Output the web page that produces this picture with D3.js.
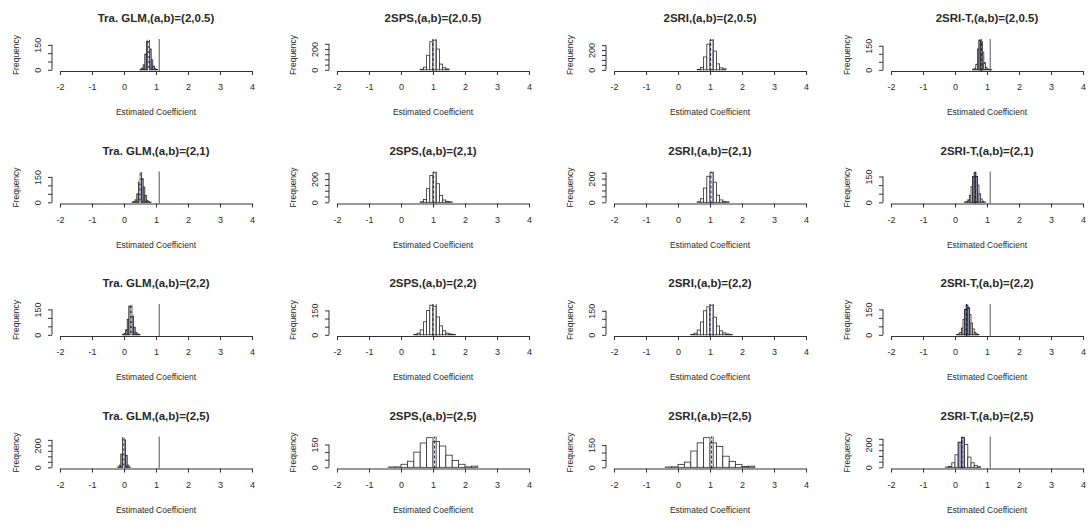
<!DOCTYPE html>
<html>
<head>
<meta charset="utf-8">
<script src="https://cdn.jsdelivr.net/npm/d3@7"></script>
<style>
  body { margin: 0; background: #fff; }
  svg text { font-family: "Liberation Sans", Arial, sans-serif; fill: #2a2a2a; }
</style>
</head>
<body>
<svg id="chart" width="1089" height="530"></svg>
<script>
// ---- data ----
let methods = ["Tra. GLM", "2SPS", "2SRI", "2SRI-T"];
let settings = ["(2,0.5)", "(2,1)", "(2,2)", "(2,5)"];
let xTicks = [-2, -1, 0, 1, 2, 3, 4];
let trueValue = 1.1;

// [row][col] histogram bin start, bin width, counts
let binStart = [
  [0.50, 0.6, 0.6, 0.55],
  [0.25, 0.6, 0.6, 0.30],
  [-0.05, 0.4, 0.4, 0.05],
  [-0.20, -0.4, -0.4, -0.3]
];
let binWidth = [
  [0.05, 0.1, 0.1, 0.05],
  [0.05, 0.1, 0.1, 0.05],
  [0.05, 0.1, 0.1, 0.05],
  [0.05, 0.2, 0.2, 0.1]
];
let counts = [
  [[3,10,30,95,170,178,125,60,22,6,2],
   [5,25,140,270,285,200,55,20,8],
   [5,25,130,260,300,190,60,20,10],
   [3,10,35,130,185,175,110,45,15,5,2,1]],
  [[2,5,15,50,120,175,140,90,40,12,4,1],
   [5,25,120,230,255,160,60,20,8,4],
   [5,30,120,220,250,170,60,20,8,4],
   [2,5,15,40,90,150,172,150,100,50,20,6,2]],
  [[2,8,30,90,170,175,110,45,15,5,2],
   [3,10,30,80,150,182,175,110,55,25,10,5,2],
   [3,10,30,80,150,175,185,110,55,25,12,5,2],
   [2,5,15,40,90,150,175,160,120,70,35,15,6,2]],
  [[3,20,120,270,250,110,20,3],
   [2,3,20,40,100,160,195,170,140,80,45,20,3,8],
   [2,3,20,35,110,165,200,165,140,75,40,20,5,8],
   [2,8,40,110,220,260,200,90,40,15,5]]
];
// filled (shaded) part of 2SRI-T histograms, same bins as counts
let shadedSRIT = [
  [0,0,0,0,185,175,0,0,0,0,0,0],
  [0,0,0,0,0,150,172,150,0,0,0,0,0],
  [0,0,0,0,0,150,175,160,0,0,0,0,0,0],
  [0,0,0,0,220,260,0,0,0,0,0]
];
let means = [
  [0.77, 1.0, 1.02, 0.82],
  [0.50, 1.02, 1.03, 0.63],
  [0.22, 1.0, 1.0, 0.36],
  [-0.01, 1.05, 1.05, 0.22]
];
let yTicks = [
  [[0,50,100,150],[0,50,100,150,200,250],[0,50,100,150,200,250],[0,50,100,150]],
  [[0,50,100,150],[0,50,100,150,200,250],[0,50,100,150,200,250],[0,50,100,150]],
  [[0,50,100,150],[0,50,100,150],[0,50,100,150],[0,50,100,150]],
  [[0,50,100,150,200,250],[0,50,100,150],[0,50,100,150],[0,50,100,150,200,250]]
];
let yLabelled = [
  [[0,150],[0,200],[0,200],[0,150]],
  [[0,150],[0,200],[0,200],[0,150]],
  [[0,150],[0,150],[0,150],[0,150]],
  [[0,200],[0,150],[0,150],[0,200]]
];

// ---- drawing ----
let svg = d3.select("#chart");
let plotW = 192, plotH = 32;
let shade = "#a3a3c4";

settings.forEach((setting, r) => {
  methods.forEach((method, c) => {
    let x0 = 60 + c * 277;
    let axisY = 71 + r * 132.5;
    let cts = counts[r][c];
    let M = d3.max(cts);

    let x = d3.scaleLinear().domain([-2, 4]).range([x0, x0 + plotW]);
    let y = d3.scaleLinear().domain([-0.04 * M, 1.04 * M]).range([axisY, axisY - plotH]);

    let g = svg.append("g");

    let bins = cts.map((v, i) => {
      let a = binStart[r][c] + i * binWidth[r][c];
      return {x0: a, x1: a + binWidth[r][c], n: v};
    });

    // bars
    g.selectAll("rect.bar").data(bins).enter().append("rect")
      .attr("class", "bar")
      .attr("x", d => x(d.x0))
      .attr("width", d => x(d.x1) - x(d.x0))
      .attr("y", d => y(d.n))
      .attr("height", d => y(0) - y(d.n))
      .attr("fill", c == 0 ? shade : "#fff")
      .attr("stroke", "#2b2b2b")
      .attr("stroke-width", 0.8);

    if (c == 3) {
      let sh = shadedSRIT[r].map((v, i) => ({x0: bins[i].x0, x1: bins[i].x1, n: v})).filter(d => d.n > 0);
      g.selectAll("rect.sh").data(sh).enter().append("rect")
        .attr("class", "sh")
        .attr("x", d => x(d.x0))
        .attr("width", d => x(d.x1) - x(d.x0))
        .attr("y", d => y(d.n))
        .attr("height", d => y(0) - y(d.n))
        .attr("fill", shade)
        .attr("stroke", "#2b2b2b")
        .attr("stroke-width", 0.8);
    }

    // mean (dashed) and true value (solid)
    g.append("line")
      .attr("x1", x(means[r][c])).attr("x2", x(means[r][c]))
      .attr("y1", axisY).attr("y2", axisY - plotH)
      .attr("stroke", c == 0 ? "#fff" : "#1c1c4a")
      .attr("stroke-width", 1)
      .attr("stroke-dasharray", "3,2");
    g.append("line")
      .attr("x1", x(trueValue)).attr("x2", x(trueValue))
      .attr("y1", axisY).attr("y2", axisY - plotH)
      .attr("stroke", "#555")
      .attr("stroke-width", 1);

    // x axis
    let xa = g.append("g").attr("transform", "translate(0," + axisY + ")")
      .call(d3.axisBottom(x).tickValues(xTicks).tickSize(4).tickPadding(9).tickSizeOuter(0)
        .tickFormat(d => String(d)));
    xa.select(".domain").attr("stroke", "#333");
    xa.selectAll(".tick line").attr("stroke", "#333");
    xa.selectAll("text").attr("font-size", 9).attr("fill", "#333")
      .attr("font-family", "Liberation Sans, Arial, sans-serif");

    // y axis
    let ya = g.append("g").attr("transform", "translate(" + (x0 - 8) + ",0)")
      .call(d3.axisLeft(y).tickValues(yTicks[r][c]).tickSize(4).tickSizeOuter(0)
        .tickFormat(d => yLabelled[r][c].includes(d) ? String(d) : ""));
    ya.select(".domain").attr("d", "M0," + y(0) + "V" + y(d3.max(yTicks[r][c]))).attr("stroke", "#333");
    ya.selectAll(".tick line").attr("stroke", "#333");
    ya.selectAll(".tick text")
      .attr("x", 0).attr("dy", null)
      .attr("text-anchor", "middle")
      .attr("transform", "translate(-9,0) rotate(-90)")
      .attr("y", 0).attr("dy", "-0.2em")
      .attr("font-size", 9).attr("fill", "#333")
      .attr("font-family", "Liberation Sans, Arial, sans-serif");

    // titles
    g.append("text")
      .attr("x", x0 + plotW / 2).attr("y", axisY - 49)
      .attr("text-anchor", "middle")
      .attr("font-size", 11.5).attr("font-weight", "bold")
      .text(method + ",(a,b)=" + setting);
    g.append("text")
      .attr("x", x0 + plotW / 2).attr("y", axisY + 44)
      .attr("text-anchor", "middle")
      .attr("font-size", 8.5)
      .text("Estimated Coefficient");
    g.append("text")
      .attr("transform", "translate(" + (x0 - 41) + "," + (axisY - 16) + ") rotate(-90)")
      .attr("text-anchor", "middle")
      .attr("font-size", 8.5)
      .text("Frequency");
  });
});
</script>
</body>
</html>
